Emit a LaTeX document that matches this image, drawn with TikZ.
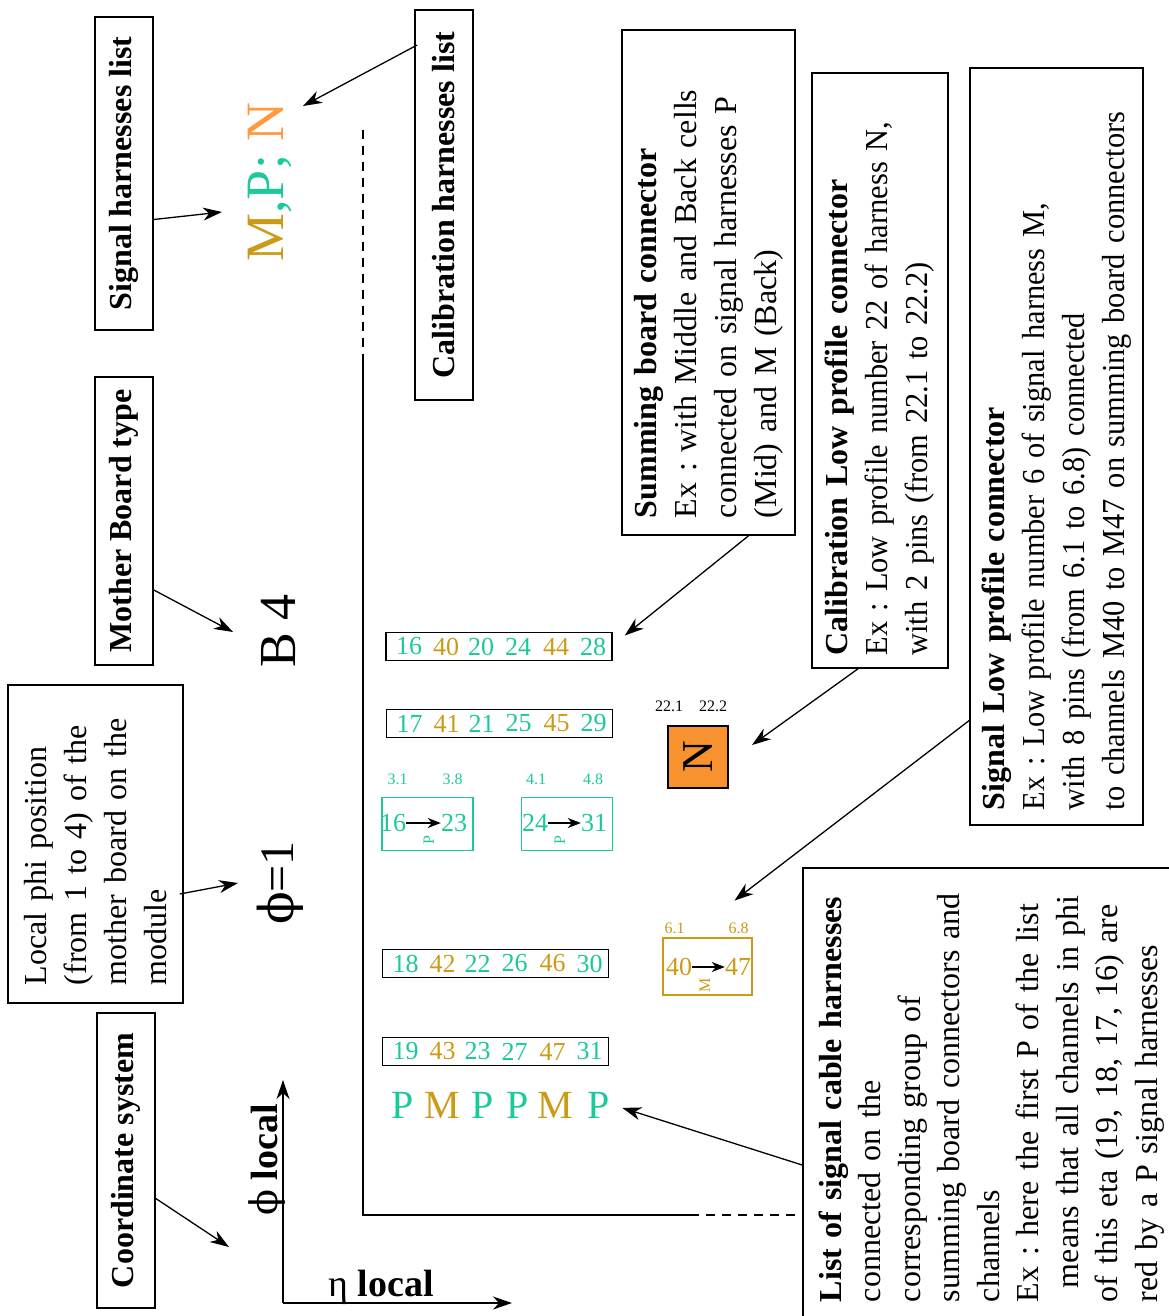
\documentclass[tikz,border=0pt]{standalone}
\usepackage{fontspec}
\setmainfont{Liberation Serif}
\newfontfamily\narrowfamily{Liberation Serif}[FakeStretch=0.95]
\newfontfamily\greekfont{DejaVu Serif}
\usepackage{xcolor}
\usetikzlibrary{arrows.meta,calc,positioning}

\definecolor{sigP}{HTML}{1BC99B}
\definecolor{sigM}{HTML}{CC9A17}
\definecolor{calN}{HTML}{FF9A40}
\definecolor{calfill}{HTML}{F7922E}

\newcommand\notefont{\fontsize{32}{40}\selectfont}
\newcommand\chanfont{\fontsize{26}{28}\selectfont}
\newcommand\pinfont{\fontsize{16}{18}\selectfont}
\newcommand\phisym{{\greekfont ϕ}}
\newcommand\notetitle[1]{{\rmfamily\bfseries #1}}

\begin{document}
\frenchspacing
\begin{tikzpicture}
  [ x=1pt, y=-1pt,
    >={Stealth[length=19pt,width=13pt,inset=6pt]},
    link/.style={line width=1.3pt},
    pinarrow/.style={line width=1.4pt, >={Stealth[length=13pt,width=10pt,inset=4pt]}},
    frame/.style={line width=1.4pt},
    titlebox/.style={draw, line width=1.6pt, rotate=90, inner sep=0pt,
                     minimum height=58pt, font=\notefont\bfseries},
    notebox/.style={draw, line width=1.6pt, rotate=90, align=left,
                    inner ysep=0pt, font=\notefont},
    bigtext/.style={rotate=90, anchor=base, inner sep=0pt},
    rowbox/.style={draw, line width=1.6pt, minimum width=226pt,
                   minimum height=28pt, inner sep=0pt},
    chan/.style={font=\chanfont, inner sep=0pt},
    lpbox/.style={draw, line width=1.4pt, inner sep=0pt},
    pinlbl/.style={font=\pinfont, inner sep=0pt},
    pintype/.style={rotate=90, font=\pinfont, inner sep=0pt},
    harnletter/.style={font=\fontsize{40}{44}\selectfont, inner sep=0pt, anchor=base}
  ]
  \useasboundingbox (0,0) rectangle (1168,1316);

  \node[titlebox, minimum width=313pt] (siglist)  at (124,173.5)  {Signal harnesses list};
  \node[titlebox, minimum width=390pt] (callist)  at (444,205)    {Calibration harnesses list};
  \node[titlebox, minimum width=288pt] (mbbox)    at (124,521)    {Mother Board type};
  \node[titlebox, minimum width=295pt] (coordbox) at (126,1160.5) {Coordinate system};

  \node[notebox, text width=282pt, inner xsep=18pt, minimum height=175pt]
    (phibox) at (95.5,844)
    {Local phi position\\(from 1 to 4) of the\\mother board on the\\module};
  \node[notebox, text width=471pt, inner xsep=17pt, minimum height=173pt]
    (sumbox) at (708.5,282.5)
    {\notetitle{Summing board connector}\\Ex : with Middle and Back cells\\
     connected on signal harnesses P\\(Mid) and M (Back)};
  \node[notebox, text width=570pt, inner xsep=12.5pt, minimum height=136pt,
        font=\notefont\narrowfamily]
    (callp) at (880,370.5)
    {\notetitle{Calibration Low profile connector}\\Ex : Low profile number 22 of harness N,\\
     with 2 pins (from 22.1 to 22.2)};
  \node[notebox, text width=727pt, inner xsep=15pt, minimum height=173pt,
        font=\notefont\narrowfamily]
    (siglp) at (1056.5,446.5)
    {\notetitle{Signal Low profile connector}\\Ex : Low profile number 6 of signal harness M,\\
     with 8 pins (from 6.1 to 6.8) connected\\to channels M40 to M47 on summing board connectors};
  \node[notebox, text width=412pt, inner xsep=22pt, minimum height=377pt,
        font=\fontsize{32}{39.5}\selectfont]
    (listbox) at (991.5,1096)
    {\notetitle{List of signal cable harnesses}\\connected on the\\corresponding group of\\
     summing board connectors and\\channels\\Ex : here the first P of the list\\
     \hspace*{14pt}means that all channels in phi\\of this eta (19, 18, 17, 16) are\\
     red by a P signal harnesses};

  \node[bigtext, font=\fontsize{54}{60}\selectfont] (harn) at (283,182)
    {\textcolor{sigM}{M}\textcolor{sigP}{,P;} \textcolor{calN}{N}};
  \node[bigtext, font=\fontsize{52}{60}\selectfont] (mbtype) at (295,631) {B 4};
  \node[bigtext, font=\fontsize{48}{54}\selectfont] (phipos) at (293,883) {\phisym=1};

  \coordinate (origin) at (283,1303);
  \coordinate (phitip) at (283,1080);
  \coordinate (etatip) at (512,1303);
  \draw[->, link] (origin) -- (phitip);
  \draw[->, link] (origin) -- (etatip);
  \node[bigtext, font=\fontsize{38}{40}\selectfont] (philbl) at (277,1160) {\phisym{} \textbf{local}};
  \node[anchor=base west, inner sep=0pt, font=\fontsize{38}{40}\selectfont]
    (etalbl) at (328,1296) {η \textbf{local}};

  \draw[frame, dash pattern=on 9pt off 7pt] (363,130) -- (363,355);
  \draw[frame] (363,355) -- (363,1215) -- (690,1215);
  \draw[frame, dash pattern=on 9pt off 7pt] (690,1215) -- (803,1215);

  \foreach \r/\xc/\yy in {1/499/646.5, 2/499.5/723.5, 3/495.5/963.5, 4/495.5/1051.5} {
    \node[rowbox] (row\r) at (\xc,\yy) {};
    \foreach \c/\dx/\base/\cl in {1/-90/15/sigP, 2/-53/39/sigM, 3/-18/19/sigP,
                                  4/19/23/sigP, 5/57/43/sigM, 6/94/27/sigP} {
      \pgfmathtruncatemacro\num{\base+\r}
      \node[chan, text=\cl] (ch\r-\c) at ({\xc+\dx},\yy) {\num};
    }
  }
  \foreach \c/\xx/\h/\cl in {1/403/P/sigP, 2/442/M/sigM, 3/483/P/sigP,
                             4/518/P/sigP, 5/555/M/sigM, 6/599/P/sigP}
    \node[harnletter, text=\cl] (h\c) at (\xx,1118) {\h};

  \node[lpbox, draw=sigP, minimum width=91pt, minimum height=53pt] (lpA) at (427.5,824) {};
  \node[chan, text=sigP] (lpAfrom) at (393,823) {16};
  \node[chan, text=sigP] (lpAto)   at (454,823) {23};
  \node[pintype, text=sigP] (lpAtype) at (429,840) {P};
  \node[pinlbl, text=sigP] (lpApin1) [above right=12pt and 6pt of lpA.north west] {3.1};
  \node[pinlbl, text=sigP] (lpApin8) [above left=12pt and 11pt of lpA.north east] {3.8};

  \node[lpbox, draw=sigP, minimum width=91pt, minimum height=53pt] (lpB) at (567,824) {};
  \node[chan, text=sigP] (lpBfrom) at (535,823) {24};
  \node[chan, text=sigP] (lpBto)   at (594,823) {31};
  \node[pintype, text=sigP] (lpBtype) at (560,840) {P};
  \node[pinlbl, text=sigP] (lpBpin1) [above right=12pt and 5pt of lpB.north west] {4.1};
  \node[pinlbl, text=sigP] (lpBpin8) [above left=12pt and 10pt of lpB.north east] {4.8};

  \node[lpbox, draw=sigM, minimum width=89pt, minimum height=57pt] (lpM) at (707.5,966.5) {};
  \node[chan, text=sigM] (lpMfrom) at (679,967) {40};
  \node[chan, text=sigM] (lpMto)   at (738,967) {47};
  \node[pintype, text=sigM] (lpMtype) at (705,985) {M};
  \node[pinlbl, text=sigM] (lpMpin1) [above right=3pt and 2pt of lpM.north west] {6.1};
  \node[pinlbl, text=sigM] (lpMpin8) [above left=3pt and 4pt of lpM.north east] {6.8};

  \node[lpbox, draw=black, fill=calfill, minimum width=62pt, minimum height=60pt,
        rotate=90, font=\fontsize{44}{48}\selectfont] (nbox) at (698,757) {N};
  \node[pinlbl] (npin1) at (669,706) {22.1};
  \node[pinlbl] (npin2) at (713,706) {22.2};

  \path[->, pinarrow] (lpAfrom) edge (lpAto)
                      (lpBfrom) edge (lpBto)
                      (lpMfrom) edge (lpMto);

  \path[->, link]
    ($(siglist.south)+(0,46)$)   edge ($(harn.base)+(-61,30)$)
    ($(callist.north)+(3,-160)$) edge ($(harn.base)+(20,-76)$)
    ($(mbbox.south)+(0,69)$)     edge ($(mbtype.base)+(-62,1)$)
    ($(phibox.south)+(-4,50)$)   edge ($(phipos.base)+(-55,0)$)
    ($(coordbox.south)+(0,38)$)  edge ($(origin)+(-54,-56)$)
    ($(sumbox.west)+(40,0)$)     edge ($(row1.east)+(12,-11)$)
    ($(callp.west)+(-22,0)$)     edge ($(nbox.center)+(54,-12)$)
    ($(siglp.north)+(0,274)$)    edge ($(lpM.center)+(27,-66)$)
    ($(listbox.north)+(0,69)$)   edge ($(h6.east)+(12,3)$);
\end{tikzpicture}
\end{document}
